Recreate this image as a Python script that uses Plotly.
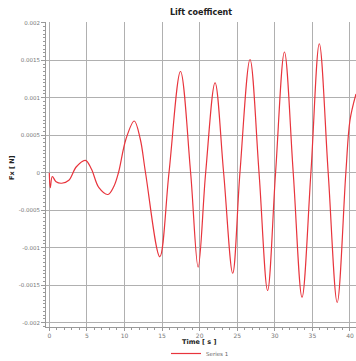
import plotly.graph_objects as go

time_s = [0, 0.13, 0.4, 0.9, 1.65, 2.6, 3.6, 4.8, 5.6, 6.6, 7.8, 8.6, 9.2, 10.2, 11.3, 12.1,
          12.8, 14.7, 15.92, 17.45, 18.8, 19.8, 20.8, 22.05, 23.19, 24.4, 25.36, 26.7, 27.9,
          29.04, 30.1, 31.28, 32.45, 33.62, 34.8, 35.92, 37.1, 38.3, 39.45, 40.0, 40.8]
fx_n = [0, -0.0002, -0.00005, -0.00012, -0.00014, -0.0001, 0.00008, 0.000165, 0.00005, -0.0002,
        -0.00029, -0.00018, 0.0, 0.00045, 0.00069, 0.00045,
        0.0, -0.00112, 0.0, 0.00135, 0.0, -0.00126, 0.0, 0.0012, 0.0, -0.00134, 0.0, 0.00151, 0.0,
        -0.00157, 0.0, 0.00161, 0.0, -0.00166, 0.0, 0.00172, 0.0, -0.00173, 0.0, 0.0007, 0.00105]

y_tickvals = [0.002, 0.0015, 0.001, 0.0005, 0, -0.0005, -0.001, -0.0015, -0.002]
y_ticktext = ["0.002", "0.0015", "0.001", "0.0005", "0", "-0.0005", "-0.001", "-0.0015", "-0.002"]
x_tickvals = [0, 5, 10, 15, 20, 25, 30, 35, 40]

fig = go.Figure()
fig.add_trace(go.Scatter(x=time_s, y=fx_n, mode="lines", name="Series 1",
                         line=dict(color="#e8343c", width=1.2, shape="spline", smoothing=1.0)))

W, H = 356, 361
L, R, T, B = 46, 0, 22, 34
PW, PH = W - L - R, H - T - B
fig.update_layout(
    width=W, height=H,
    margin=dict(l=L, r=R, t=T, b=B, autoexpand=False),
    paper_bgcolor="white", plot_bgcolor="white",
    font=dict(family="DejaVu Sans", size=7, color="#555"),
    title=dict(text="<b>Lift coefficent</b>", x=(L + W) / 2 / W, xanchor="center",
               y=1 - 12.5 / H, yanchor="middle", font=dict(size=8, color="#222")),
    showlegend=True,
    legend=dict(orientation="h", x=(200 - L) / PW, xanchor="center", y=-(339 - (H - B)) / PH,
                yanchor="top", font=dict(size=5.5, color="#666"), itemwidth=30,
                bgcolor="rgba(0,0,0,0)", tracegroupgap=0),
    xaxis=dict(range=[-0.44, 40.8], tickvals=x_tickvals, showgrid=True, gridcolor="#b0b0b0",
               gridwidth=1, zeroline=False, showline=True, linecolor="#999", ticks="outside",
               ticklen=3, tickcolor="#999", tickfont=dict(size=6, color="#777"), automargin=False,
               minor=dict(dtick=1, ticks="outside", ticklen=2, tickcolor="#999", showgrid=False)),
    yaxis=dict(range=[-0.002057, 0.00201], tickvals=y_tickvals, ticktext=y_ticktext,
               showgrid=True, gridcolor="#b0b0b0", gridwidth=1, zeroline=False, showline=True,
               linecolor="#999", ticks="outside", ticklen=4, tickcolor="#999", automargin=False,
               tickfont=dict(size=5.5, color="#777"),
               minor=dict(dtick=0.00005, ticks="outside", ticklen=2, tickcolor="#999", showgrid=False)),
    annotations=[
        dict(text="<b>Time [ s ]</b>", xref="paper", yref="paper", x=(199 - L) / PW,
             y=-(342 - (H - B)) / PH, xanchor="center", yanchor="middle", showarrow=False,
             font=dict(size=6.5, color="#222")),
        dict(text="<b>Fx [ N]</b>", xref="paper", yref="paper", x=(12 - L) / PW,
             y=(H - B - 168) / PH, xanchor="center", yanchor="middle", showarrow=False,
             textangle=-90, font=dict(size=6.5, color="#222")),
    ],
)
fig.write_html("out.html", config={"displayModeBar": False},
               post_script="document.body.style.margin='0';document.body.style.overflow='hidden';")
